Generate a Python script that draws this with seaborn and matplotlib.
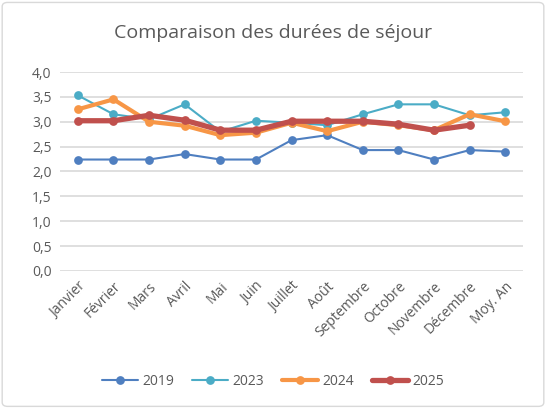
import matplotlib
matplotlib.use("Agg")
import matplotlib.pyplot as plt
import seaborn as sns
import numpy as np
import pandas as pd
from matplotlib.patches import FancyBboxPatch

months = ["Janvier", "Février", "Mars", "Avril", "Mai", "Juin", "Juillet", "Août",
          "Septembre", "Octobre", "Novembre", "Décembre", "Moy. An"]
y2019 = [2.24, 2.24, 2.24, 2.35, 2.24, 2.24, 2.63, 2.73, 2.43, 2.43, 2.24, 2.43, 2.40]
y2023 = [3.53, 3.15, 3.05, 3.35, 2.80, 3.02, 2.98, 2.93, 3.15, 3.35, 3.35, 3.13, 3.19]
y2024 = [3.25, 3.45, 3.00, 2.92, 2.73, 2.78, 2.98, 2.81, 3.00, 2.93, 2.83, 3.15, 3.01]
y2025 = [3.02, 3.02, 3.13, 3.03, 2.83, 2.83, 3.01, 3.01, 3.01, 2.95, 2.83, 2.93, np.nan]
years = ["2019", "2023", "2024", "2025"]

series = {"2019": y2019, "2023": y2023, "2024": y2024, "2025": y2025}
colors = {"2019": "#4F7FC0", "2023": "#4BACC6", "2024": "#F79646", "2025": "#C0504D"}
widths = {"2019": 1.5, "2023": 1.5, "2024": 3.0, "2025": 3.8}

sns.set_style("white")
plt.rcParams['font.family'] = ['Open Sans', 'DejaVu Sans']

fig = plt.figure(figsize=(5.46, 4.08), dpi=100)
ax = fig.add_axes([0.11, 0.336, 0.848, 0.4875])

pos = list(range(len(months)))
for i, yr in enumerate(years):
    df = pd.DataFrame({"x": pos, "y": series[yr]})
    sns.lineplot(data=df, x="x", y="y", ax=ax, color=colors[yr], linewidth=widths[yr],
                 marker="o", markersize=6.3, markeredgewidth=0, label=yr, zorder=3 + i)

ax.set_xlim(-0.5, len(months) - 0.5)
ax.set_ylim(0, 4)
ax.set_yticks(np.arange(0, 4.01, 0.5))
ax.set_yticklabels([f"{v:.1f}".replace(".", ",") for v in np.arange(0, 4.01, 0.5)])
ax.set_xticks(pos)
ax.set_xticklabels(months, rotation=45, ha="right", rotation_mode="anchor")
ax.tick_params(axis="both", length=0, labelsize=10, labelcolor="#595959")
ax.tick_params(axis="y", pad=6)
ax.tick_params(axis="x", pad=6)
ax.yaxis.grid(True, color="#D9D9D9", linewidth=1.2)
ax.set_axisbelow(True)
for s in ax.spines.values():
    s.set_visible(False)
ax.set_xlabel("")
ax.set_ylabel("")
ax.legend_.remove()

handles, labels = ax.get_legend_handles_labels()
fig.legend(handles, labels, loc="center", bbox_to_anchor=(0.5, 0.066), ncol=4, frameon=False,
           fontsize=10, labelcolor="#595959", handlelength=2.6, columnspacing=1.3, handletextpad=0.3)

fig.text(0.5, 0.92, "Comparaison des durées de séjour", ha="center", va="center",
         fontsize=14, color="#595959")

border = FancyBboxPatch((0.004, 0.004), 0.992, 0.99, boxstyle="round,pad=0,rounding_size=0.01",
                        transform=fig.transFigure, fill=False, edgecolor="#D9D9D9", linewidth=1)
fig.patches.append(border)

fig.savefig("out.png", dpi=100)
